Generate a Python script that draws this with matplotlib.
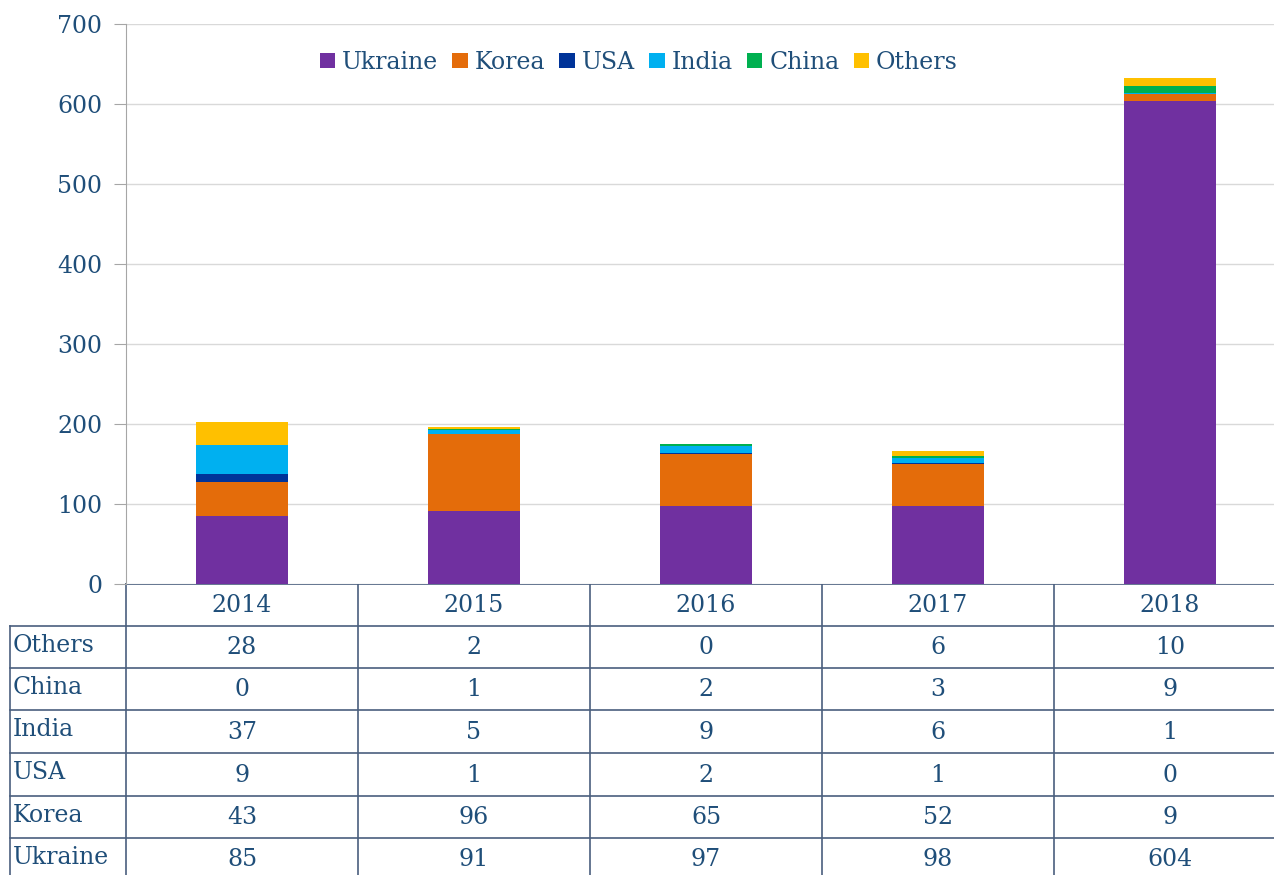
import matplotlib.pyplot as plt
import numpy as np

# Data
years = ['2014', '2015', '2016', '2017', '2018']
countries = ['Ukraine', 'Korea', 'USA', 'India', 'China', 'Others']
ukraine = [85, 91, 97, 98, 604]
korea = [43, 96, 65, 52, 9]
usa = [9, 1, 2, 1, 0]
india = [37, 5, 9, 6, 1]
china = [0, 1, 2, 3, 9]
others = [28, 2, 0, 6, 10]
colors = ['#7030A0', '#E46C0A', '#003399', '#00B0F0', '#00B050', '#FFC000']

series = [ukraine, korea, usa, india, china, others]
txt = '#1F4E79'
line_col = '#4A5F7E'
plt.rcParams['font.family'] = ['DejaVu Serif']
fs = 17

W, H = 1274, 875
fig = plt.figure(figsize=(W / 100, H / 100), dpi=100)

# plot area in pixel terms (runs a little past the right edge, like the original)
x0, x1 = 126, 1286
ytop, ybot = 24, 584
ax = fig.add_axes([x0 / W, 1 - ybot / H, (x1 - x0) / W, (ybot - ytop) / H])

x = np.arange(len(years))
bottom = np.zeros(len(years))
for name, vals, c in zip(countries, series, colors):
    ax.bar(x, vals, 0.4, bottom=bottom, color=c, label=name, zorder=3)
    bottom += np.array(vals)

ax.set_xlim(-0.5, len(years) - 0.5)
ax.set_ylim(0, 700)
ax.set_yticks(range(0, 701, 100))
ax.set_xticks([])
ax.grid(axis='y', color='#D9D9D9', linewidth=1, zorder=0)
for s in ['top', 'right', 'bottom']:
    ax.spines[s].set_visible(False)
ax.spines['left'].set_color('#A6A6A6')
ax.tick_params(axis='y', colors='#A6A6A6', length=9, labelsize=fs, labelcolor=txt, pad=8)

leg = ax.legend(loc='upper center', bbox_to_anchor=(0.442, 0.99), ncol=6, frameon=False,
                fontsize=fs, handlelength=0.65, handleheight=0.65, handletextpad=0.3,
                columnspacing=0.6, labelcolor=txt)

# Data table drawn underneath in pixel coords
tab = fig.add_axes([0, 0, 1, 1], zorder=-1)
tab.set_xlim(0, W)
tab.set_ylim(H, 0)
tab.axis('off')

col_edges = [126, 358, 590, 822, 1054, 1286]
row_edges = [584, 626, 668, 710, 753, 796, 838, 880]
lw = 1.2
tab.plot([x0, W], [584, 584], color=line_col, lw=lw)
for yy in row_edges[1:-1]:
    tab.plot([10, W], [yy, yy], color=line_col, lw=lw)
for xx in col_edges[:-1]:
    tab.plot([xx, xx], [584, H], color=line_col, lw=lw)
tab.plot([10, 10], [626, H], color=line_col, lw=lw)

for j, yr in enumerate(years):
    cx = (col_edges[j] + col_edges[j + 1]) / 2
    tab.text(cx, (row_edges[0] + row_edges[1]) / 2 + 1, yr, ha='center', va='center',
             fontsize=fs, color=txt)

rows = list(zip(countries, series))[::-1]
for i, (name, vals) in enumerate(rows):
    yc = (row_edges[i + 1] + row_edges[i + 2]) / 2 + 1
    tab.text(13, yc - 3, name, ha='left', va='center', fontsize=fs, color=txt)
    for j, v in enumerate(vals):
        cx = (col_edges[j] + col_edges[j + 1]) / 2
        tab.text(cx, yc, str(v), ha='center', va='center', fontsize=fs, color=txt)

fig.savefig('out.png', dpi=100)
